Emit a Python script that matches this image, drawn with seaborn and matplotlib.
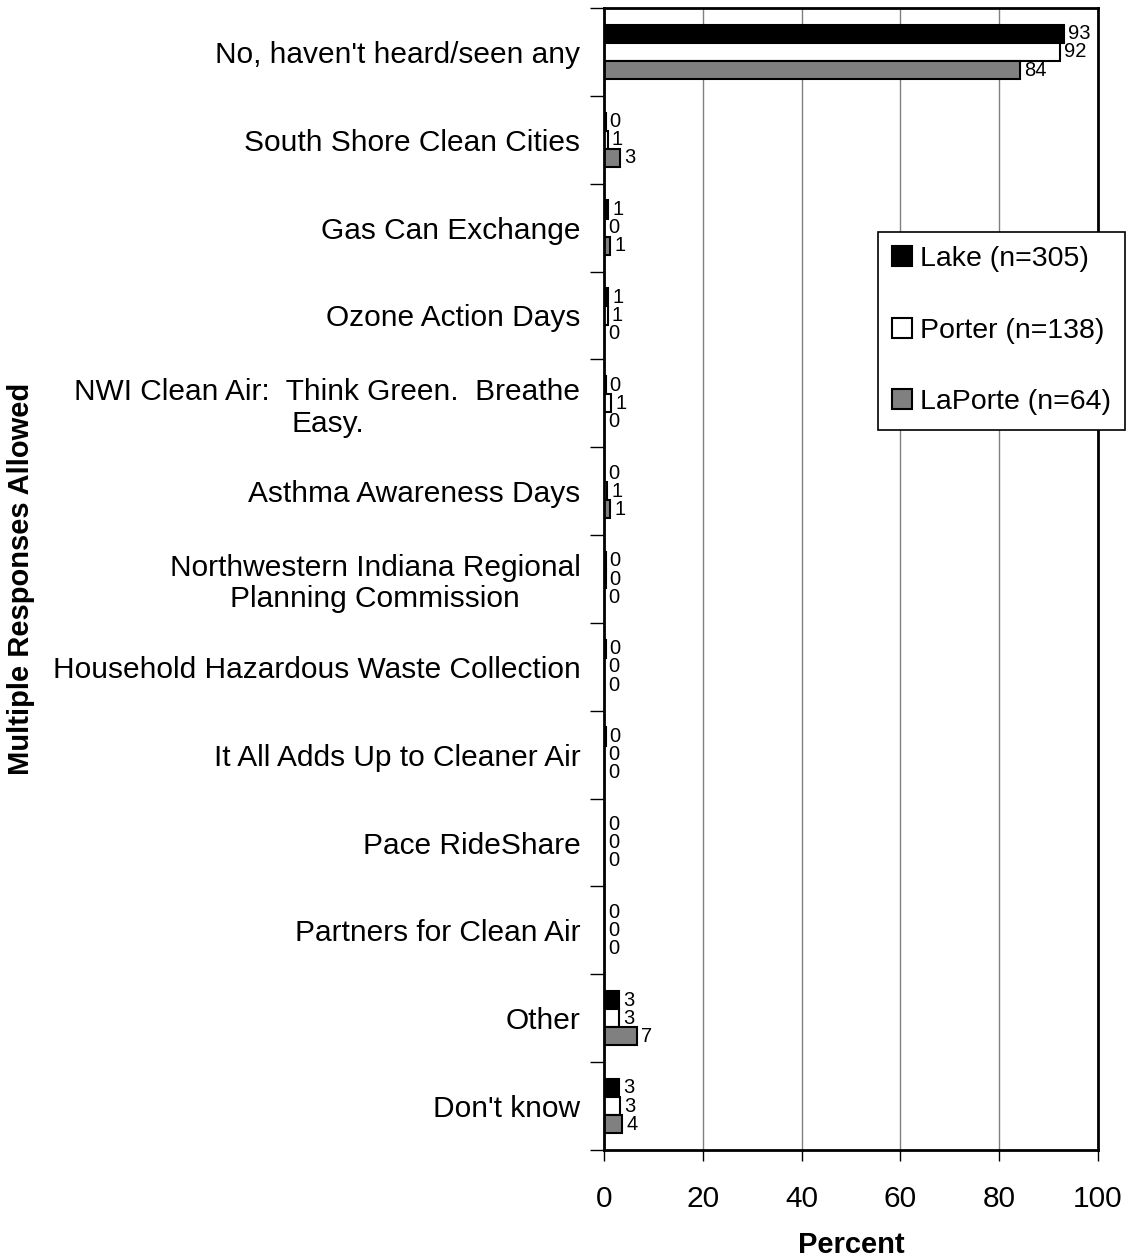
import matplotlib
matplotlib.use("Agg")
import matplotlib.pyplot as plt
import pandas as pd
import seaborn as sns

# categorias y valores (porcentaje)
categorias = [
    "No, haven't heard/seen any",
    "South Shore Clean Cities",
    "Gas Can Exchange",
    "Ozone Action Days",
    "NWI Clean Air:  Think Green.  Breathe\nEasy.",
    "Asthma Awareness Days",
    "Northwestern Indiana Regional\nPlanning Commission",
    "Household Hazardous Waste Collection",
    "It All Adds Up to Cleaner Air",
    "Pace RideShare",
    "Partners for Clean Air",
    "Other",
    "Don't know",
]
series = ["Lake (n=305)", "Porter (n=138)", "LaPorte (n=64)"]
lake = [93.1, 0.3, 0.9, 0.9, 0.3, 0.0, 0.3, 0.3, 0.3, 0.0, 0.0, 3.1, 3.0]
porter = [92.3, 0.7, 0.0, 0.7, 1.4, 0.6, 0.3, 0.0, 0.0, 0.0, 0.0, 3.0, 3.3]
laporte = [84.2, 3.2, 1.3, 0.0, 0.0, 1.2, 0.0, 0.0, 0.0, 0.0, 0.0, 6.6, 3.7]
colores = ["#000000", "#ffffff", "#808080"]

df = pd.DataFrame({
    "Categoria": categorias * 3,
    "Serie": [series[0]] * len(categorias) + [series[1]] * len(categorias) + [series[2]] * len(categorias),
    "Valor": lake + porter + laporte,
})

sns.set_style("white")
plt.rcParams["font.family"] = ["Liberation Sans", "DejaVu Sans"]
plt.rcParams["text.color"] = "black"
plt.rcParams["xtick.color"] = "black"
plt.rcParams["ytick.color"] = "black"
plt.rcParams["axes.labelcolor"] = "black"

fig = plt.figure(figsize=(11.28, 12.59), dpi=100)
ax = fig.add_axes([0.5355, 0.0866, 0.9734 - 0.5355, 0.9936 - 0.0866])

sns.barplot(data=df, y="Categoria", x="Valor", hue="Serie", orient="h",
            palette=colores, edgecolor="black", linewidth=1.5, width=0.62,
            ax=ax, legend=True)

for cont in ax.containers:
    ax.bar_label(cont, labels=[f"{b.get_width():.0f}" for b in cont],
                 padding=3, fontsize=14.5)

ax.set_xlim(0, 100)
ax.set_ylim(len(categorias) - 0.5, -0.5)
ax.set_xticks([0, 20, 40, 60, 80, 100])
ax.tick_params(axis="x", labelsize=21.5, length=8, width=1, direction="out",
               bottom=True, pad=17)
ax.tick_params(axis="y", which="major", length=0, labelsize=21.5, pad=17)
ax.set_yticks([i + 0.5 for i in range(-1, len(categorias))], minor=True)
ax.tick_params(axis="y", which="minor", length=10, width=1, direction="out", left=True)
for t in ax.get_yticklabels():
    t.set_multialignment("center")
    t.set_linespacing(1.15)

ax.xaxis.grid(True, color="#808080", linewidth=1)
ax.yaxis.grid(False)
ax.set_axisbelow(True)
for s in ax.spines.values():
    s.set_color("black")
    s.set_linewidth(2)

ax.set_xlabel("")
ax.set_ylabel("")
fig.text(0.7545, 1 - 1245 / 1259, "Percent", fontsize=21, fontweight="bold",
         ha="center", va="center")
fig.text(0.019, 1 - 579 / 1259, "Multiple Responses Allowed", fontsize=21,
         fontweight="bold", rotation=90, ha="center", va="center")

leg = ax.legend(loc="upper left", bbox_to_anchor=(878 / 1128, 1 - 232 / 1259),
                bbox_transform=fig.transFigure, fontsize=20.5, frameon=True,
                fancybox=False, edgecolor="black", framealpha=1,
                labelspacing=1.6, handlelength=0.7, handleheight=0.7,
                handletextpad=0.27, borderpad=0.5, borderaxespad=0)
leg.get_frame().set_linewidth(1.2)

fig.savefig("out.png", dpi=100)
